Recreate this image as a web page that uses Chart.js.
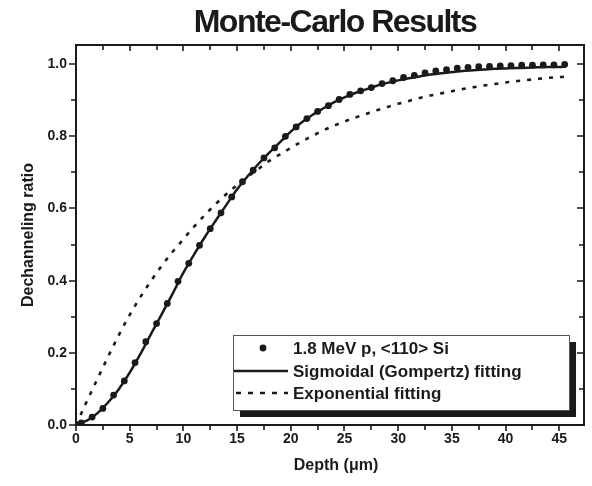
<!DOCTYPE html>
<html>
<head>
    <meta charset="utf-8" />
    <style>
        body { margin: 0; background: #ffffff; }
        #chart { display: block; }
    </style>
</head>
<body>
    <canvas id="chart" width="592" height="486"></canvas>

    <script src="https://cdn.jsdelivr.net/npm/chart.js"></script>
    <script type="text/javascript">
        // Datos
        var tituloGrafica = 'Monte-Carlo Results';
        var tituloX = 'Depth (\u03bcm)';
        var tituloY = 'Dechanneling ratio';
        var nombresSeries = ['1.8 MeV p, <110> Si', 'Sigmoidal (Gompertz) fitting', 'Exponential fitting'];

        // puntos Monte-Carlo
        var puntosX = [0.5, 1.5, 2.5, 3.5, 4.5, 5.5, 6.5, 7.5, 8.5, 9.5,
            10.5, 11.5, 12.5, 13.5, 14.5, 15.5, 16.5, 17.5, 18.5, 19.5,
            20.5, 21.5, 22.5, 23.5, 24.5, 25.5, 26.5, 27.5, 28.5, 29.5,
            30.5, 31.5, 32.5, 33.5, 34.5, 35.5, 36.5, 37.5, 38.5, 39.5,
            40.5, 41.5, 42.5, 43.5, 44.5, 45.5];
        var puntosY = [0.006, 0.022, 0.046, 0.083, 0.122, 0.173, 0.231, 0.281, 0.337, 0.398,
            0.448, 0.498, 0.544, 0.588, 0.632, 0.674, 0.706, 0.740, 0.768, 0.800,
            0.826, 0.849, 0.869, 0.885, 0.902, 0.916, 0.926, 0.935, 0.946, 0.954,
            0.963, 0.969, 0.976, 0.981, 0.985, 0.989, 0.991, 0.993, 0.994, 0.995,
            0.996, 0.997, 0.997, 0.998, 0.998, 0.999];

        // curvas de ajuste
        var curvaX = [0, 1, 2, 3, 4, 5, 6, 7, 8, 9,
            10, 11, 12, 13, 14, 15, 16, 17, 18, 19,
            20, 21, 22, 23, 24, 25, 26, 27, 28, 29,
            30, 31, 32, 33, 34, 35, 36, 37, 38, 39,
            40, 41, 42, 43, 44, 45, 45.5];
        var gompertzY = [0.003, 0.012, 0.033, 0.063, 0.100, 0.145, 0.197, 0.253, 0.308, 0.364,
            0.422, 0.473, 0.521, 0.566, 0.610, 0.653, 0.690, 0.724, 0.755, 0.784,
            0.813, 0.838, 0.859, 0.877, 0.894, 0.908, 0.920, 0.930, 0.940, 0.948,
            0.955, 0.961, 0.966, 0.971, 0.975, 0.978, 0.981, 0.983, 0.985, 0.987,
            0.988, 0.989, 0.990, 0.991, 0.992, 0.992, 0.993];
        var exponencialY = [0.000, 0.065, 0.128, 0.190, 0.250, 0.305, 0.355, 0.400, 0.442, 0.480,
            0.515, 0.550, 0.582, 0.612, 0.640, 0.665, 0.688, 0.710, 0.732, 0.750,
            0.768, 0.785, 0.801, 0.816, 0.829, 0.841, 0.852, 0.862, 0.872, 0.881,
            0.890, 0.898, 0.906, 0.913, 0.919, 0.925, 0.931, 0.936, 0.941, 0.945,
            0.949, 0.953, 0.956, 0.959, 0.962, 0.964, 0.965];

        // marcas de los ejes
        var ticksX = [0, 5, 10, 15, 20, 25, 30, 35, 40, 45];
        var ticksMenoresX = [2.5, 7.5, 12.5, 17.5, 22.5, 27.5, 32.5, 37.5, 42.5, 47.5];
        var ticksY = [0, 0.2, 0.4, 0.6, 0.8, 1.0];
        var ticksMenoresY = [0.1, 0.3, 0.5, 0.7, 0.9];

        var fuente = '"Liberation Sans", Arial, sans-serif';

        function unir(xs, ys) {
            return xs.map(function (x, i) { return { x: x, y: ys[i] }; });
        }

        // marco, ticks, textos y leyenda dibujados a mano
        var marcoPlugin = {
            id: 'marco',
            afterDraw: function (chart) {
                var ctx = chart.ctx;
                var a = chart.chartArea;
                var sx = chart.scales.x;
                var sy = chart.scales.y;
                ctx.save();
                ctx.strokeStyle = '#1a1a1a';
                ctx.fillStyle = '#1a1a1a';

                // marco
                ctx.lineWidth = 2;
                ctx.strokeRect(a.left, a.top, a.right - a.left, a.bottom - a.top);

                // ticks eje x
                ctx.lineWidth = 1.6;
                ctx.beginPath();
                ticksX.concat(ticksMenoresX).forEach(function (v) {
                    var px = Math.round(sx.getPixelForValue(v));
                    if (px > a.right - 2) return;
                    var largo = ticksX.indexOf(v) >= 0 ? 6 : 5;
                    ctx.moveTo(px, a.bottom);
                    ctx.lineTo(px, a.bottom + largo);
                    ctx.moveTo(px, a.top);
                    ctx.lineTo(px, a.top + largo);
                });
                // ticks eje y
                ticksY.concat(ticksMenoresY).forEach(function (v) {
                    var py = Math.round(sy.getPixelForValue(v));
                    var largo = ticksY.indexOf(v) >= 0 ? 7 : 5;
                    ctx.moveTo(a.left, py);
                    ctx.lineTo(a.left - largo, py);
                    ctx.moveTo(a.right, py);
                    ctx.lineTo(a.right - largo, py);
                });
                ctx.stroke();

                // etiquetas
                ctx.font = 'bold 14px ' + fuente;
                ctx.textAlign = 'center';
                ctx.textBaseline = 'middle';
                ticksX.forEach(function (v) {
                    ctx.fillText(String(v), sx.getPixelForValue(v), a.bottom + 14);
                });
                ctx.textAlign = 'right';
                ticksY.forEach(function (v) {
                    ctx.fillText(v.toFixed(1), a.left - 9, sy.getPixelForValue(v));
                });

                // titulos de ejes
                ctx.font = 'bold 16px ' + fuente;
                ctx.textAlign = 'center';
                ctx.fillText(tituloX, (a.left + a.right) / 2 + 6, 466);
                ctx.save();
                ctx.translate(29, (a.top + a.bottom) / 2);
                ctx.rotate(-Math.PI / 2);
                ctx.fillText(tituloY, 0, 0);
                ctx.restore();

                // titulo principal
                ctx.save();
                ctx.font = 'bold 32px ' + fuente;
                ctx.letterSpacing = '-1.5px';
                ctx.textBaseline = 'alphabetic';
                ctx.fillText(tituloGrafica, 335, 32);
                ctx.restore();

                // leyenda con sombra
                var lx = 233, ly = 335, lw = 336, lh = 75;
                ctx.fillRect(lx + 7, ly + 7, lw, lh);
                ctx.fillStyle = '#ffffff';
                ctx.fillRect(lx, ly, lw, lh);
                ctx.lineWidth = 1;
                ctx.strokeStyle = '#555555';
                ctx.strokeRect(lx + 0.5, ly + 0.5, lw, lh);

                ctx.fillStyle = '#1a1a1a';
                ctx.strokeStyle = '#1a1a1a';
                var filas = [348, 371, 393];
                ctx.beginPath();
                ctx.arc(263, filas[0], 3.4, 0, Math.PI * 2);
                ctx.fill();
                ctx.lineWidth = 2.5;
                ctx.beginPath();
                ctx.moveTo(234, filas[1]);
                ctx.lineTo(288, filas[1]);
                ctx.stroke();
                ctx.setLineDash([5, 7]);
                ctx.beginPath();
                ctx.moveTo(236, filas[2]);
                ctx.lineTo(288, filas[2]);
                ctx.stroke();
                ctx.setLineDash([]);

                ctx.font = 'bold 17px ' + fuente;
                ctx.textAlign = 'left';
                nombresSeries.forEach(function (n, i) {
                    ctx.fillText(n, 293, filas[i] + 1);
                });
                ctx.restore();
            }
        };

        var canvas = document.getElementById('chart');
        var ctx = canvas.getContext('2d');

        var chartInstance = new Chart(ctx, {
            type: 'scatter',
            data: {
                datasets: [{
                    label: nombresSeries[0],
                    data: unir(puntosX, puntosY),
                    showLine: false,
                    pointRadius: 3.4,
                    pointBackgroundColor: '#1a1a1a',
                    pointBorderWidth: 0
                }, {
                    label: nombresSeries[1],
                    data: unir(curvaX, gompertzY),
                    showLine: true,
                    pointRadius: 0,
                    borderColor: '#1a1a1a',
                    borderWidth: 2.5,
                    cubicInterpolationMode: 'monotone'
                }, {
                    label: nombresSeries[2],
                    data: unir(curvaX, exponencialY),
                    showLine: true,
                    pointRadius: 0,
                    borderColor: '#1a1a1a',
                    borderWidth: 2.6,
                    borderDash: [4, 7],
                    cubicInterpolationMode: 'monotone'
                }]
            },
            options: {
                responsive: false,
                animation: false,
                devicePixelRatio: 1,
                layout: { padding: { left: 76, right: 8, top: 45, bottom: 61 } },
                plugins: {
                    legend: { display: false },
                    tooltip: { enabled: false }
                },
                scales: {
                    x: { type: 'linear', min: 0, max: 47.3, display: false },
                    y: { type: 'linear', min: 0, max: 1.053, display: false }
                }
            },
            plugins: [marcoPlugin]
        });
    </script>
</body>
</html>
